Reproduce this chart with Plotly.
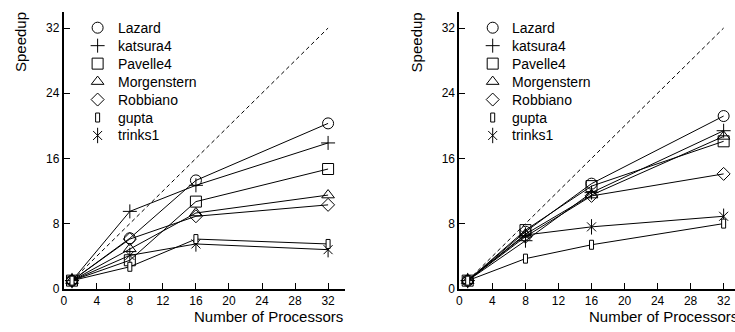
import plotly.graph_objects as go

# ---------------- data ----------------
procs = [1, 8, 16, 32]
ideal = [1, 32]

series_names = ["Lazard", "katsura4", "Pavelle4", "Morgenstern", "Robbiano", "gupta", "trinks1"]

# left panel
lazard_a = [1, 6.2, 13.3, 20.3]
katsura_a = [1, 9.5, 12.7, 17.9]
pavelle_a = [1, 3.5, 10.7, 14.7]
morgen_a = [1, 4.9, 9.3, 11.5]
robbiano_a = [1, 6.1, 8.9, 10.3]
gupta_a = [1, 2.7, 6.1, 5.5]
trinks_a = [1, 4.1, 5.5, 4.8]

# right panel
lazard_b = [1, 7.0, 12.9, 21.2]
katsura_b = [1, 5.9, 11.8, 19.4]
pavelle_b = [1, 7.2, 12.6, 18.1]
morgen_b = [1, 6.7, 11.5, 18.7]
robbiano_b = [1, 6.4, 11.4, 14.1]
gupta_b = [1, 3.7, 5.4, 8.0]
trinks_b = [1, 6.6, 7.6, 8.9]

x_ticks = [0, 4, 8, 12, 16, 20, 24, 28, 32]
y_ticks = [0, 8, 16, 24, 32]

# ---------------- geometry ----------------
W, H = 735, 332
FONT = "Liberation Sans, Arial, Helvetica, sans-serif"

def px(x):
    return x / W

def py(y):
    return 1 - y / H

left_dom = [px(61), px(343)]
right_dom = [px(458.3), 1.0]
y_dom = [py(295), py(12)]
x_range_left = [0, 34]
x_range_right = [0, (735 - 458.3) / 8.29]
y_range = [0, 34]

symbols = ["circle-open", "cross-thin-open", "square-open", "triangle-up-open",
           "diamond-open", None, "x-thin-open"]
sizes = [11, 10, 11, 11, 10, 0, 9]

fig = go.Figure()

panels = [
    ("x", "y", [lazard_a, katsura_a, pavelle_a, morgen_a, robbiano_a, gupta_a, trinks_a]),
    ("x2", "y2", [lazard_b, katsura_b, pavelle_b, morgen_b, robbiano_b, gupta_b, trinks_b]),
]

shapes = []
for xa, ya, data in panels:
    # ideal speedup
    fig.add_trace(go.Scatter(x=ideal, y=ideal, mode="lines", xaxis=xa, yaxis=ya,
                             line=dict(color="black", width=1, dash="4px,3px"),
                             showlegend=False, hoverinfo="skip"))
    for name, vals, sym, sz in zip(series_names, data, symbols, sizes):
        if sym is None:
            fig.add_trace(go.Scatter(x=procs, y=vals, mode="lines", xaxis=xa, yaxis=ya,
                                     line=dict(color="black", width=1),
                                     name=name, showlegend=False))
            for xv, yv in zip(procs, vals):
                shapes.append(dict(type="rect", xref=xa, yref=ya,
                                   xsizemode="pixel", ysizemode="pixel",
                                   xanchor=xv, yanchor=yv, x0=-2, x1=2, y0=-4.5, y1=4.5,
                                   line=dict(color="black", width=1), fillcolor="white"))
        else:
            fig.add_trace(go.Scatter(x=procs, y=vals, mode="lines+markers", xaxis=xa, yaxis=ya,
                                     line=dict(color="black", width=1),
                                     marker=dict(symbol=sym, size=sz, color="black",
                                                 line=dict(color="black", width=1)),
                                     name=name, showlegend=False))
            if name == "trinks1":
                fig.add_trace(go.Scatter(x=procs, y=vals, mode="markers", xaxis=xa, yaxis=ya,
                                         marker=dict(symbol="line-ns-open", size=11, color="black",
                                                     line=dict(color="black", width=1)),
                                         showlegend=False, hoverinfo="skip"))

# ---------------- manual legends (pixel-space overlay axis) ----------------
legend_rows = [28.3 + i * 18.35 for i in range(len(series_names))]
legend_sym_x = [95, 491.7]
legend_txt_x = [113, 509.3]
annotations = []
for sx, tx in zip(legend_sym_x, legend_txt_x):
    for name, sym, sz, ry in zip(series_names, symbols, sizes, legend_rows):
        if sym is None:
            shapes.append(dict(type="rect", xref="x3", yref="y3",
                               xsizemode="pixel", ysizemode="pixel",
                               xanchor=sx, yanchor=ry, x0=-2, x1=2, y0=-4.5, y1=4.5,
                               line=dict(color="black", width=1), fillcolor="white"))
        else:
            fig.add_trace(go.Scatter(x=[sx], y=[ry], mode="markers", xaxis="x3", yaxis="y3",
                                     marker=dict(symbol=sym, size=sz, color="black",
                                                 line=dict(color="black", width=1)),
                                     showlegend=False, hoverinfo="skip"))
            if name == "trinks1":
                fig.add_trace(go.Scatter(x=[sx], y=[ry], mode="markers", xaxis="x3", yaxis="y3",
                                         marker=dict(symbol="line-ns-open", size=11, color="black",
                                                     line=dict(color="black", width=1)),
                                         showlegend=False, hoverinfo="skip"))
        annotations.append(dict(x=px(tx), y=py(ry), xref="paper", yref="paper",
                                text=name, showarrow=False, xanchor="left", yanchor="middle",
                                font=dict(family=FONT, size=14, color="black")))

# axis titles
for x_title_right, y_title_x in [(343, 17), (458.3 + 34 * 8.29, 415)]:
    annotations.append(dict(x=px(x_title_right), y=py(323), xref="paper", yref="paper",
                            text="Number of Processors", showarrow=False,
                            xanchor="right", yanchor="middle",
                            font=dict(family=FONT, size=15, color="black")))
    annotations.append(dict(x=px(y_title_x), y=py(43), xref="paper", yref="paper",
                            text="Speedup", showarrow=False, textangle=-90,
                            xanchor="center", yanchor="middle",
                            font=dict(family=FONT, size=15, color="black")))

xaxis_common = dict(showline=True, linecolor="black", linewidth=2, showgrid=False,
                    zeroline=False, ticks="inside", ticklen=6, tickwidth=1, tickcolor="black",
                    tickvals=x_ticks, ticktext=[str(v) for v in x_ticks],
                    tickfont=dict(family=FONT, size=12, color="black"), fixedrange=True)
yaxis_common = dict(showline=True, linecolor="black", linewidth=2, showgrid=False,
                    zeroline=False, ticks="inside", ticklen=6, tickwidth=1, tickcolor="black",
                    tickvals=y_ticks, ticktext=[str(v) for v in y_ticks], range=y_range,
                    domain=y_dom, tickfont=dict(family=FONT, size=12, color="black"),
                    fixedrange=True)

fig.update_layout(
    width=W, height=H,
    margin=dict(l=0, r=0, t=0, b=0),
    paper_bgcolor="white", plot_bgcolor="rgba(0,0,0,0)",
    showlegend=False,
    xaxis=dict(domain=left_dom, range=x_range_left, anchor="y", **xaxis_common),
    yaxis=dict(anchor="x", **yaxis_common),
    xaxis2=dict(domain=right_dom, range=x_range_right, anchor="y2", **xaxis_common),
    yaxis2=dict(anchor="x2", **yaxis_common),
    xaxis3=dict(domain=[0, 1], range=[0, W], visible=False, anchor="y3", fixedrange=True),
    yaxis3=dict(domain=[0, 1], range=[H, 0], visible=False, anchor="x3", fixedrange=True),
    shapes=shapes,
    annotations=annotations,
)

fig.write_html(
    "out.html",
    config={"displayModeBar": False},
    post_script="document.body.style.margin='0px';document.body.style.overflow='hidden';",
)
